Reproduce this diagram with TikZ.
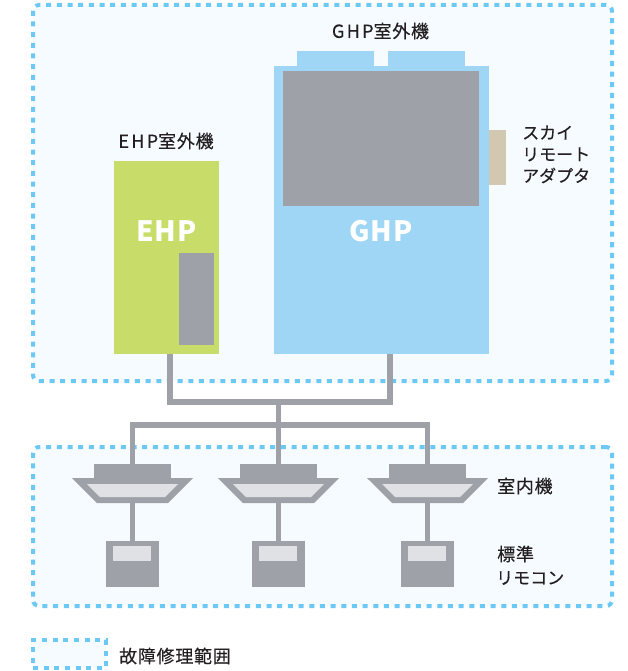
\documentclass[tikz,border=0pt]{standalone}
\usepackage{fontspec}
\setmainfont{Noto Sans CJK JP}
\newfontfamily\wideFont[LetterSpace=4]{Noto Sans CJK JP}
\newfontfamily\labelFont[LetterSpace=4,FakeBold=0.3]{Noto Sans CJK JP}
\newfontfamily\latinFont[LetterSpace=13,FakeBold=0.3]{Noto Sans CJK JP}
\newfontfamily\kanaFont[FakeBold=0.3]{Noto Sans CJK JP}
\usetikzlibrary{shapes.geometric}
\definecolor{scopeBlue}{HTML}{6CC8F4}
\definecolor{scopeFill}{HTML}{F5FBFF}
\definecolor{ghpBlue}{HTML}{9FD6F6}
\definecolor{ehpGreen}{HTML}{C8DC6A}
\definecolor{unitGrey}{HTML}{9EA1A7}
\definecolor{screenGrey}{HTML}{E0E1E4}
\definecolor{adapterTan}{HTML}{D2C8B2}
\definecolor{labelInk}{HTML}{231F20}
\newcommand{\panelBody}{\phantom{\rule{71pt}{25pt}}}
\newcommand{\grilleBody}{\phantom{\rule{65pt}{13pt}}}
\tikzstyle{box} = [rectangle, inner sep=0pt, outer sep=0pt]
\tikzstyle{scopeArea} = [box, draw=scopeBlue, fill=scopeFill, line width=4pt, rounded corners=6pt, dash pattern=on 5pt off 5.67pt]
\tikzstyle{greyBox} = [box, fill=unitGrey]
\tikzstyle{screen} = [box, fill=screenGrey]
\tikzstyle{ghpBox} = [box, fill=ghpBlue]
\tikzstyle{casing} = [greyBox, minimum width=77pt, minimum height=14pt]
\tikzstyle{panel} = [trapezium, shape border rotate=180, trapezium angle=45, inner sep=0pt, outer sep=0pt, fill=unitGrey]
\tikzstyle{grille} = [panel, fill=screenGrey]
\tikzstyle{remote} = [greyBox, minimum width=53pt, minimum height=46pt]
\tikzstyle{remoteScreen} = [screen, minimum width=38pt, minimum height=15pt]
\tikzstyle{label} = [inner sep=0pt, text=labelInk, align=left, font=\labelFont\fontsize{18}{21.5}\selectfont]
\tikzstyle{kanaLabel} = [label, font=\kanaFont\fontsize{17}{21.5}\selectfont]
\tikzstyle{brand} = [inner sep=0pt, text=white, font=\wideFont\bfseries\fontsize{28}{30}\selectfont]
\tikzstyle{pipe} = [line width=5.3pt, draw=unitGrey]
\begin{document}
\begin{tikzpicture}[x=1pt, y=-1pt, node distance=0pt]
    \useasboundingbox (0,0) rectangle (627,671);

    \node (topArea) [scopeArea, minimum width=579pt, minimum height=376pt] at (322.5,193) {};
    \node (bottomArea) [scopeArea, minimum width=579pt, minimum height=159pt] at (322.5,526.5) {};
    \node (legendArea) [scopeArea, rounded corners=0pt, minimum width=73pt, minimum height=28pt] at (69.5,654) {};

    \node (ehpBody) [box, fill=ehpGreen, minimum width=105pt, minimum height=193pt] at (166.5,257.5) {};
    \node (ehpPanel) [greyBox, right of=ehpBody, xshift=30pt, yshift=-41.5pt, minimum width=35pt, minimum height=92pt] {};
    \node (ehpText) [brand] at (166.5,231) {EHP};
    \node (ehpLabel) [label] at (166,141) {{\latinFont EHP}室外機};

    \node (ghpBody) [ghpBox, minimum width=215pt, minimum height=288pt] at (381.5,210) {};
    \node (ghpFanA) [ghpBox, above of=ghpBody, xshift=-46pt, yshift=151.5pt, minimum width=77pt, minimum height=15pt] {};
    \node (ghpFanB) [ghpBox, above of=ghpBody, xshift=45pt, yshift=151.5pt, minimum width=77pt, minimum height=15pt] {};
    \node (ghpPanel) [greyBox, above of=ghpBody, xshift=-1pt, yshift=71.5pt, minimum width=196pt, minimum height=135pt] {};
    \node (ghpText) [brand] at (381,231) {GHP};
    \node (ghpLabel) [label] at (380.5,31) {{\latinFont GHP}室外機};

    \node (adapter) [box, fill=adapterTan, right of=ghpBody, xshift=116pt, yshift=52.5pt, minimum width=17pt, minimum height=55pt] {};
    \node (adapterLabel) [kanaLabel, anchor=west] at (522,154.5) {スカイ\\リモート\\アダプタ};

    \node (casingA) [casing] at (132.5,471) {};
    \node (panelA) [panel, below of=casingA, yshift=-19.5pt] {\panelBody};
    \node (grilleA) [grille] at (panelA) {\grilleBody};
    \node (remoteA) [remote, below of=panelA, yshift=-73.5pt] {};
    \node (screenA) [remoteScreen, above of=remoteA, xshift=-0.5pt, yshift=10.5pt] {};

    \node (casingB) [casing] at (278.5,471) {};
    \node (panelB) [panel, below of=casingB, yshift=-19.5pt] {\panelBody};
    \node (grilleB) [grille] at (panelB) {\grilleBody};
    \node (remoteB) [remote, below of=panelB, yshift=-73.5pt] {};
    \node (screenB) [remoteScreen, above of=remoteB, xshift=-0.5pt, yshift=10.5pt] {};

    \node (casingC) [casing] at (427.5,471) {};
    \node (panelC) [panel, below of=casingC, yshift=-19.5pt] {\panelBody};
    \node (grilleC) [grille] at (panelC) {\grilleBody};
    \node (remoteC) [remote, below of=panelC, yshift=-73.5pt] {};
    \node (screenC) [remoteScreen, above of=remoteC, xshift=-0.5pt, yshift=10.5pt] {};

    \node (indoorLabel) [label, anchor=west] at (497,486) {室内機};
    \node (standardLabel) [label, anchor=west] at (497,554) {標準};
    \node (remoteLabel) [kanaLabel, anchor=west] at (496,578) {リモコン};
    \node (legendLabel) [label, anchor=west] at (119,656) {故障修理範囲};

    \coordinate (ehpDrop) at (170,354);
    \coordinate (ghpDrop) at (390,354);
    \coordinate (mainJoin) at (278.5,402);
    \coordinate (branchJoin) at (278.5,425);

    \draw[pipe] (ehpDrop) |- (mainJoin);
    \draw[pipe] (ghpDrop) |- (mainJoin);
    \draw[pipe] (mainJoin) -- (casingB.north);
    \draw[pipe] (casingA.north) |- (branchJoin);
    \draw[pipe] (casingC.north) |- (branchJoin);

    \draw[pipe] (panelA.south) -- (remoteA.north);
    \draw[pipe] (panelB.south) -- (remoteB.north);
    \draw[pipe] (panelC.south) -- (remoteC.north);

\end{tikzpicture}
\end{document}
